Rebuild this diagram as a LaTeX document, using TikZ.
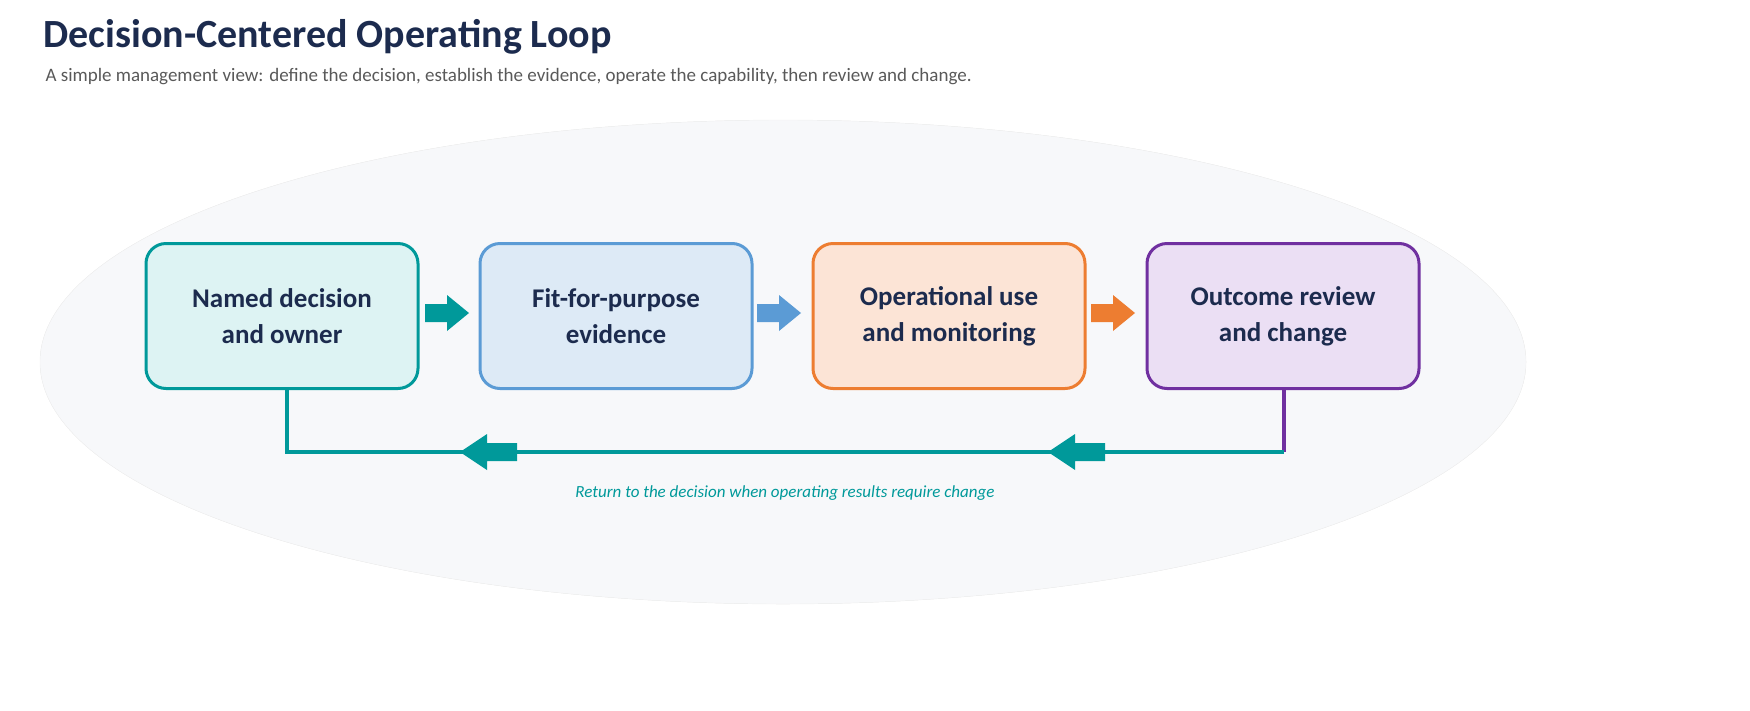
\documentclass[tikz,border=0pt]{standalone}
\usepackage{fontspec}
\setmainfont{Carlito}
\usetikzlibrary{shapes.geometric}
\definecolor{navy}{HTML}{1C2B4E}
\definecolor{teal1}{HTML}{00999A}
\definecolor{tealf}{HTML}{DDF3F3}
\definecolor{blue1}{HTML}{5B9BD5}
\definecolor{bluef}{HTML}{DDEAF6}
\definecolor{or1}{HTML}{ED7D31}
\definecolor{orf}{HTML}{FCE4D6}
\definecolor{pu1}{HTML}{7030A0}
\definecolor{puf}{HTML}{EBDFF4}
\definecolor{ellf}{HTML}{F7F8FA}
\begin{document}
\begin{tikzpicture}[x=1pt,y=-1pt,
 shad/.style={preaction={fill=black,opacity=0.12,xshift=2pt,yshift=-4pt}},
 box/.style={rounded corners=20pt,line width=3pt,minimum width=272pt,minimum height=145pt,align=center,font=\fontsize{27}{36}\selectfont\bfseries,text=navy,shad},
 ret/.style={line width=4pt}]
\useasboundingbox (0,0) rectangle (1750,710);
\node[anchor=base west,font=\fontsize{40}{44}\selectfont\bfseries,text=navy] (title) at (40,47) {Decision-Centered Operating Loop};
\node[anchor=base west,font=\fontsize{19}{22}\selectfont,text=black!65] (sub) at (42,81) {A simple management view: define the decision, establish the evidence, operate the capability, then review and change.};
\node[ellipse,minimum width=1486pt,minimum height=484pt,fill=ellf,draw=gray!12,preaction={fill=black,opacity=0.18,yshift=-4pt}] (ell) at (783,362) {};
\node[box,draw=teal1,fill=tealf] (b1) at (282,316) {Named decision\\and owner};
\node[box,draw=blue1,fill=bluef] (b2) at (616,316) {Fit-for-purpose\\evidence};
\node[box,draw=or1,fill=orf] (b3) at (949,316) {Operational use\\and monitoring};
\node[box,draw=pu1,fill=puf] (b4) at (1283,316) {Outcome review\\and change};
\coordinate (a1) at (447,313);
\coordinate (a2) at (779,313);
\coordinate (a3) at (1113,313);
\foreach \c/\col in {a1/teal1,a2/blue1,a3/or1}
  \fill[\col] ([shift={(-22,-9)}]\c) -- ++(22,0) -- ++(0,-9) -- ++(22,18) -- ++(-22,18) -- ++(0,-9) -- ++(-22,0) -- cycle;
\coordinate (r1) at (1284,452);
\coordinate (r2) at (287,452);
\draw[ret,pu1] (b4.south -| r1) -- (r1);
\draw[ret,teal1] (r1) -- (r2) -- (b1.south -| r2);
\coordinate (l1) at (1075,452);
\coordinate (l2) at (487,452);
\foreach \c in {l1,l2}
  \fill[teal1] ([shift={(30,-9)}]\c) -- ++(-30,0) -- ++(0,-9) -- ++(-27,18) -- ++(27,18) -- ++(0,-9) -- ++(30,0) -- cycle;
\node[font=\fontsize{17}{20}\selectfont\itshape,text=teal1] (cap) at (785,493) {Return to the decision when operating results require change};
\end{tikzpicture}
\end{document}
